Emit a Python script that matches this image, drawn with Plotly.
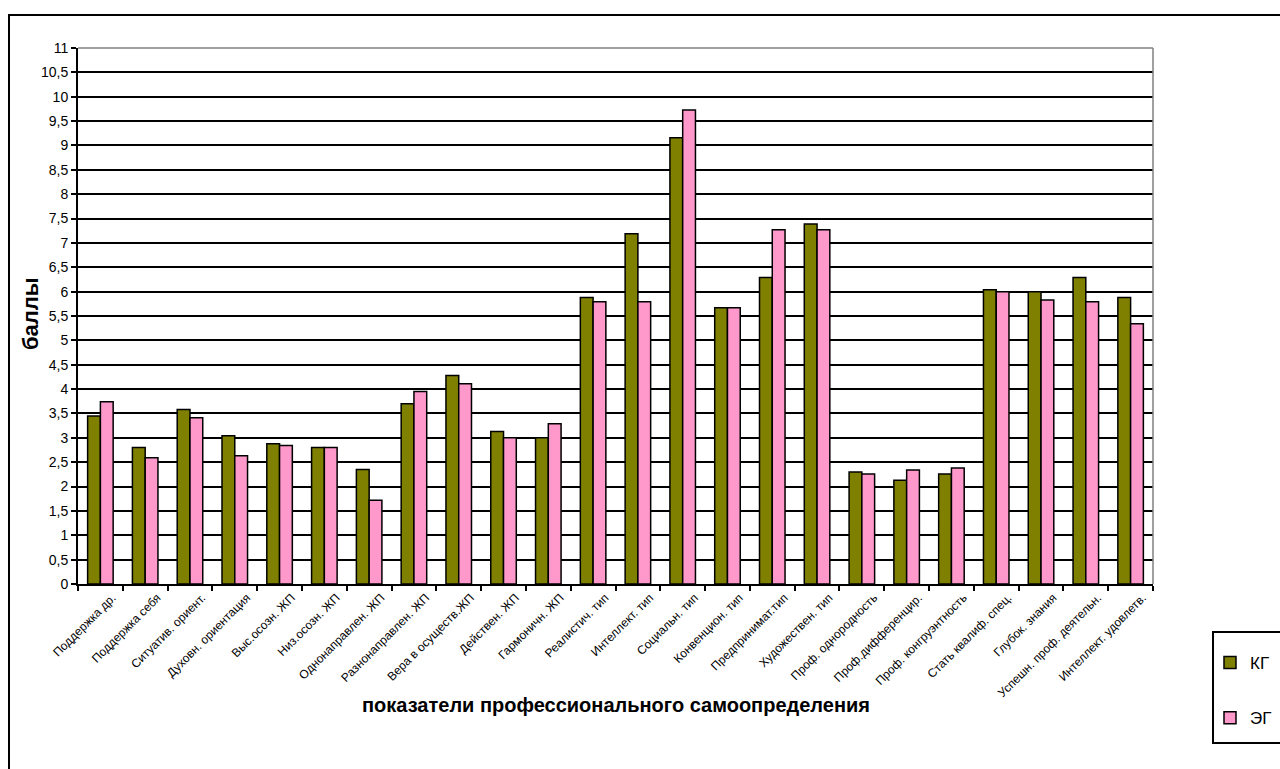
import plotly.graph_objects as go

# Показатели профессионального самоопределения
categories = [
    "Поддержка др.",
    "Поддержка себя",
    "Ситуатив. ориент.",
    "Духовн. ориентация",
    "Выс.осозн. ЖП",
    "Низ.осозн. ЖП",
    "Однонаправлен. ЖП",
    "Разнонаправлен. ЖП",
    "Вера в осуществ.ЖП",
    "Действен. ЖП",
    "Гармоничн. ЖП",
    "Реалистич. тип",
    "Интеллект. тип",
    "Социальн. тип",
    "Конвенцион. тип",
    "Предпринимат.тип",
    "Художествен. тип",
    "Проф. однородность",
    "Проф.дифференцир.",
    "Проф. конгруэнтность",
    "Стать квалиф. спец.",
    "Глубок. знания",
    "Успешн. проф. деятельн.",
    "Интеллект. удовлетв.",
]

kg_values = [3.45, 2.80, 3.58, 3.04, 2.88, 2.80, 2.35, 3.70, 4.28, 3.13, 3.00, 5.88,
             7.19, 9.16, 5.67, 6.29, 7.39, 2.30, 2.13, 2.26, 6.04, 6.00, 6.29, 5.88]
eg_values = [3.74, 2.59, 3.41, 2.63, 2.84, 2.80, 1.72, 3.95, 4.11, 3.00, 3.29, 5.79,
             5.79, 9.73, 5.67, 7.27, 7.27, 2.26, 2.34, 2.38, 6.00, 5.83, 5.79, 5.34]

series_names = ["КГ", "ЭГ"]

W, H = 1280, 769
L, R, T, B = 78, 1153, 48, 584  # plot area in pixels


def px(x):
    return (x - L) / (R - L)


def py(y):
    return (B - y) / (B - T)


fig = go.Figure()
fig.add_trace(go.Bar(
    x=categories, y=kg_values, name=series_names[0], legendgroup="kg",
    marker=dict(color="#808000", line=dict(color="black", width=1.5)),
))
fig.add_trace(go.Bar(
    x=categories, y=eg_values, name=series_names[1], legendgroup="eg",
    marker=dict(color="#FF99CC", line=dict(color="black", width=1.5)),
))

font_family = "Liberation Sans, Arial, sans-serif"

fig.update_layout(
    width=W, height=H,
    margin=dict(l=L, r=W - R, t=T, b=H - B, autoexpand=False),
    paper_bgcolor="white", plot_bgcolor="white",
    separators=", ",
    barmode="group", bargap=0.43, bargroupgap=0.0,
    font=dict(family=font_family, color="black"),
    showlegend=True,
    legend=dict(
        x=px(1210), y=py(645), xanchor="left", yanchor="top",
        font=dict(size=17, family=font_family, color="black"),
        bgcolor="rgba(0,0,0,0)", borderwidth=0,
        tracegroupgap=30, traceorder="grouped",
    ),
    xaxis=dict(
        type="category", tickangle=-45, tickson="boundaries",
        ticks="outside", ticklen=5, tickwidth=1.5, tickcolor="black",
        showline=True, linecolor="black", linewidth=2,
        tickfont=dict(size=12, family=font_family, color="black"),
        ticklabelshift=12,
        showgrid=False, automargin=False,
    ),
    yaxis=dict(
        range=[0, 11], dtick=0.5, tick0=0,
        ticks="outside", ticklen=5, tickwidth=1.5, tickcolor="black",
        showline=True, linecolor="black", linewidth=2,
        showgrid=True, gridcolor="black", gridwidth=1.5,
        zeroline=False,
        tickfont=dict(size=14, family=font_family, color="black"),
        automargin=False,
    ),
    annotations=[
        dict(text="<b>баллы</b>", textangle=-90, x=px(30), y=py(314),
             xref="paper", yref="paper", showarrow=False,
             xanchor="center", yanchor="middle",
             font=dict(size=22, family=font_family, color="black")),
        dict(text="<b>показатели профессионального самоопределения</b>",
             x=0.5, y=py(705), xref="paper", yref="paper", showarrow=False,
             xanchor="center", yanchor="middle",
             font=dict(size=20, family=font_family, color="black")),
    ],
    shapes=[
        # outer chart frame
        dict(type="rect", xref="paper", yref="paper",
             x0=px(9), x1=px(1290), y0=py(780), y1=py(15),
             line=dict(color="black", width=2), layer="below"),
        # plot area border (top and right)
        dict(type="line", xref="paper", yref="paper", x0=0, x1=1, y0=1, y1=1,
             line=dict(color="#808080", width=1.5)),
        dict(type="line", xref="paper", yref="paper", x0=1, x1=1, y0=0, y1=1,
             line=dict(color="#808080", width=1.5)),
        # legend box
        dict(type="rect", xref="paper", yref="paper",
             x0=px(1213), x1=px(1290), y0=py(743), y1=py(632),
             line=dict(color="black", width=2)),
    ],
)

fig.write_html("out.html")
